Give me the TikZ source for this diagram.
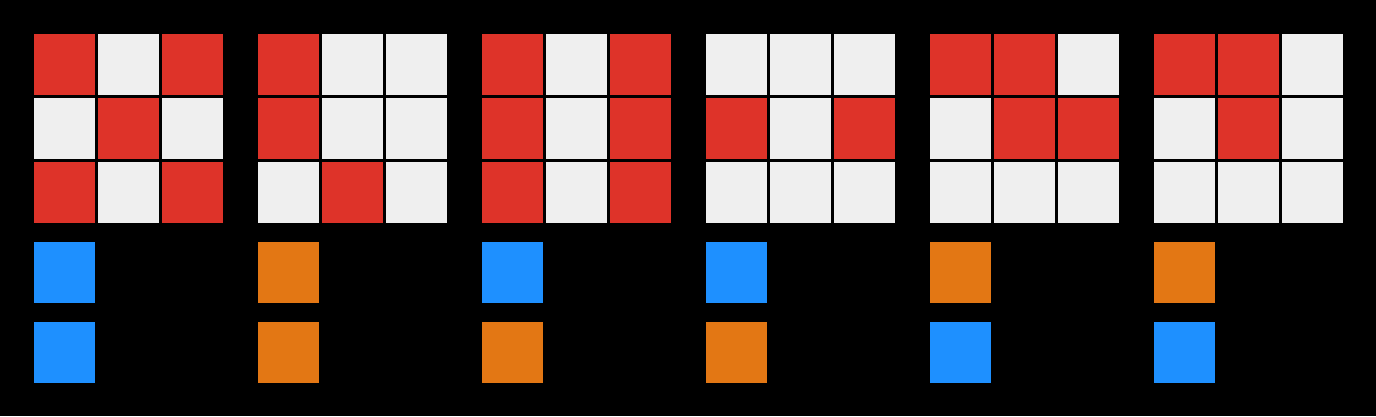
\documentclass[tikz,border=0pt]{standalone}
\usepackage{xcolor}
\usepackage{tikz}

\definecolor{cellred}{HTML}{DE3329}
\definecolor{cellgray}{HTML}{EFEFEF}
\definecolor{keyblue}{HTML}{1E90FF}
\definecolor{keyorange}{HTML}{E37714}

\begin{document}
\begin{tikzpicture}[x=1pt, y=-1pt]
         % Background
         \fill [black] (0, 0) rectangle (1376, 416);
         % Empty grids
         \foreach \g in {0,...,5}
           \foreach \c in {0, 1, 2}
             \foreach \r in {0, 1, 2}
               \fill [cellgray] ({34+224*\g+64*\c}, {34+64*\r}) rectangle ++(61, 61);
         % Red cells, one list per grid
         \foreach \c/\r in {0/0, 2/0, 1/1, 0/2, 2/2}
           \fill [cellred] ({34+64*\c}, {34+64*\r}) rectangle ++(61, 61);
         \foreach \c/\r in {0/0, 0/1, 1/2}
           \fill [cellred] ({258+64*\c}, {34+64*\r}) rectangle ++(61, 61);
         \foreach \c/\r in {0/0, 2/0, 0/1, 2/1, 0/2, 2/2}
           \fill [cellred] ({482+64*\c}, {34+64*\r}) rectangle ++(61, 61);
         \foreach \c/\r in {0/1, 2/1}
           \fill [cellred] ({706+64*\c}, {34+64*\r}) rectangle ++(61, 61);
         \foreach \c/\r in {0/0, 1/0, 1/1, 2/1}
           \fill [cellred] ({930+64*\c}, {34+64*\r}) rectangle ++(61, 61);
         \foreach \c/\r in {0/0, 1/0, 1/1}
           \fill [cellred] ({1154+64*\c}, {34+64*\r}) rectangle ++(61, 61);
         % Key squares
         \foreach \g/\top/\bot in {0/keyblue/keyblue, 1/keyorange/keyorange,
                                   2/keyblue/keyorange, 3/keyblue/keyorange,
                                   4/keyorange/keyblue, 5/keyorange/keyblue} {
           \fill [\top] ({34+224*\g}, 242) rectangle ++(61, 61);
           \fill [\bot] ({34+224*\g}, 322) rectangle ++(61, 61);
         }
     \end{tikzpicture}
\end{document}
